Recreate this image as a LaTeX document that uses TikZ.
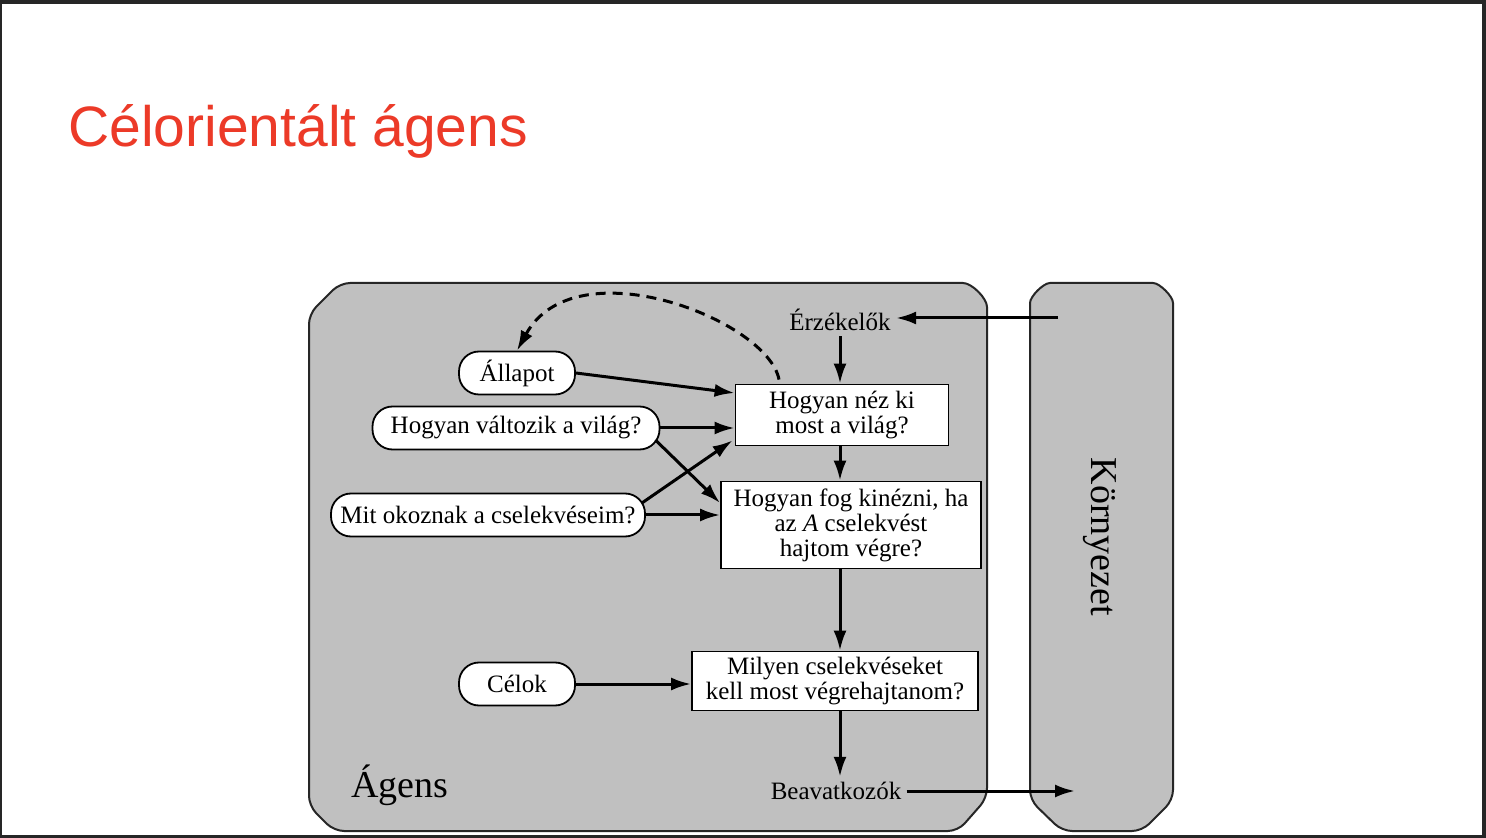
\documentclass[tikz,border=0pt]{standalone}
\usepackage{fontspec}
\setmainfont{Liberation Serif}
\newfontfamily\titlefont{Liberation Sans}
\usetikzlibrary{arrows.meta, calc}

\definecolor{titlered}{RGB}{236,58,40}
\definecolor{agentgray}{RGB}{192,192,192}
\definecolor{framedark}{RGB}{38,38,38}

\tikzset{
	question/.style={draw, fill=white, line width=0.9pt, align=center, inner sep=1pt, font=\fontsize{12.5}{12.5}\selectfont},
	knowledge/.style={draw, fill=white, line width=0.9pt, rounded corners=10pt, minimum height=21.5pt, inner sep=1pt, font=\fontsize{12.5}{12.5}\selectfont},
	io/.style={inner sep=2.5pt, font=\fontsize{12.5}{12.5}\selectfont},
	flow/.style={line width=1.5pt, -{Latex[length=10pt, width=6.5pt]}},
	panel/.style={draw=framedark, fill=agentgray, line width=1pt, rounded corners=5pt}
}

\begin{document}
\begin{tikzpicture}[x=0.5pt, y=-0.5pt]
	\useasboundingbox (0,0) rectangle (1486,838);
	\fill [framedark] (0,0) rectangle (1486,838);
	\fill [white] (2,4) rectangle (1482,835);

	\node [anchor=base west, inner sep=0, text=titlered, font=\titlefont\fontsize{28.5}{30}\selectfont] (cim) at (68,147) {Célorientált ágens};

	% agent and environment
	\draw [panel] (640,831) -- (334,831) -- (309,806) -- (309,314) -- (340,283) -- (953,283)
		arc [start angle=90, end angle=0, radius=17pt] -- (987,798) -- (958,831) -- cycle;
	\draw [panel] (1100,831) -- (1062,831) -- (1030,800) -- (1030,313)
		arc [start angle=180, end angle=90, radius=15pt] -- (1143,283)
		arc [start angle=90, end angle=0, radius=15pt] -- (1173,800) -- (1142,831) -- cycle;

	\node [font=\fontsize{19}{19}\selectfont] (agens) at (400,785) {Ágens};
	\node [rotate=-90, font=\fontsize{19}{19}\selectfont] (kornyezet) at (1100,537) {Környezet};

	\node [io] (erzekelok) at (840,320) {Érzékelők};
	\node [io] (beavatkozok) at (836,791) {Beavatkozók};
	\coordinate (szenzor) at (1058,318);
	\coordinate (hatas) at (1075,790);

	\node [knowledge, minimum width=58pt] (allapot) at (517,373) {Állapot};
	\node [knowledge, minimum width=143.5pt] (valtozik) at (516,428) {Hogyan változik a világ?};
	\node [knowledge, minimum width=157pt] (okoz) at (488,515) {Mit okoznak a cselekvéseim?};
	\node [knowledge, minimum width=58pt] (celok) at (517,684) {Célok};

	\node [question, minimum width=106.5pt, minimum height=30.5pt] (most) at (842,415) {Hogyan néz ki\\most a világ?};
	\node [question, minimum width=130pt, minimum height=43.5pt] (lesz) at (851,525) {Hogyan fog kinézni, ha\\az \textit{A} cselekvést\\hajtom végre?};
	\node [question, minimum width=143pt, minimum height=29.5pt] (tenni) at (835,681) {Milyen cselekvéseket\\kell most végrehajtanom?};

	\draw [flow] (szenzor) -- (szenzor -| erzekelok.east);
	\draw [flow] (erzekelok.south) -- (erzekelok.south |- most.north);
	\draw [flow] (allapot.east) -- ($(most.west)+(0,-22)$);
	\draw [flow] (valtozik.east) -- (valtozik.east -| most.west);
	\draw [flow] ($(valtozik.east)+(-5,12)$) -- ($(lesz.west)+(0,-22)$);
	\draw [flow] ($(okoz.east)+(-4,-12)$) -- ($(most.south west)+(-2,-6)$);
	\draw [flow] (okoz.east) -- (okoz.east -| lesz.west);
	\draw [flow] (most.south -| erzekelok.south) -- (lesz.north -| erzekelok.south);
	\draw [flow] (lesz.south -| erzekelok.south) -- (tenni.north -| erzekelok.south);
	\draw [flow] (celok.east) -- (celok.east -| tenni.west);
	\draw [flow] (tenni.south -| erzekelok.south) -- (beavatkozok.north -| erzekelok.south);
	\draw [flow] (beavatkozok.east) -- (beavatkozok.east -| hatas);
	\draw [flow, dash pattern=on 5pt off 3.5pt] ($(most.north)+(-63,-4)$) .. controls (768,320) and (575,245) .. (allapot.north);
\end{tikzpicture}
\end{document}
